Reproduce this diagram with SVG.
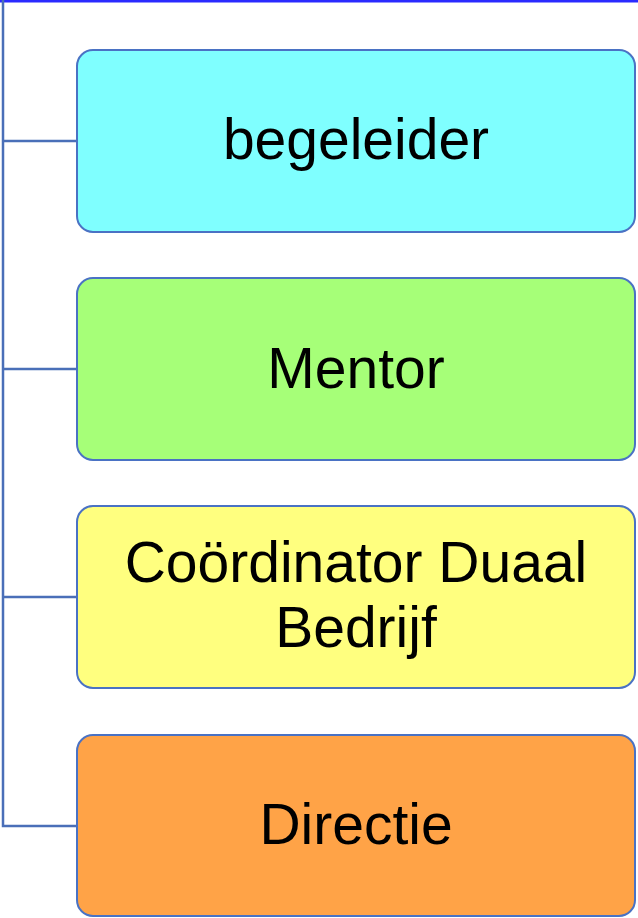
<svg xmlns="http://www.w3.org/2000/svg" width="638" height="918" viewBox="0 0 638 918">
<style>
.box{stroke:#4a72c4;stroke-width:2}
.conn{stroke:#4a6fb8;stroke-width:2.5;fill:none}
text{font-family:"Liberation Sans",Arial,sans-serif;font-size:57px;fill:#000;text-anchor:middle}
</style>
<rect width="638" height="918" fill="#fff"/>
<line x1="0" y1="1" x2="638" y2="1" stroke="#2a2aff" stroke-width="3"/>
<g id="connectors">
<path class="conn" d="M3,0 V826 H77"/>
<path class="conn" d="M3,141 H77"/>
<path class="conn" d="M3,369 H77"/>
<path class="conn" d="M3,597 H77"/>
</g>
<g id="begeleider">
<rect class="box" x="77" y="50" width="558" height="182" rx="16" fill="#7fffff"/>
<text x="356" y="159">begeleider</text>
</g>
<g id="mentor">
<rect class="box" x="77" y="278" width="558" height="182" rx="16" fill="#a6ff78"/>
<text x="356" y="388">Mentor</text>
</g>
<g id="coordinator">
<rect class="box" x="77" y="506" width="558" height="182" rx="16" fill="#ffff7f"/>
<text x="356" y="582">Coördinator Duaal</text>
<text x="356" y="647">Bedrijf</text>
</g>
<g id="directie">
<rect class="box" x="77" y="735" width="558" height="181" rx="16" fill="#ffa347"/>
<text x="356" y="844">Directie</text>
</g>
</svg>
